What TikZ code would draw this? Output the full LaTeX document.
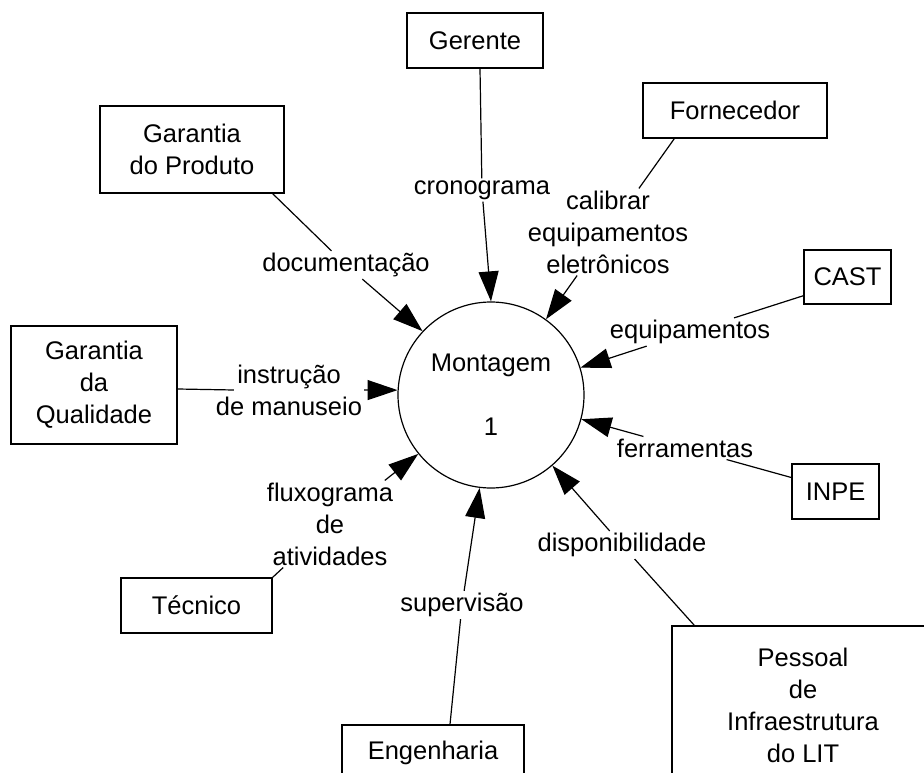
\documentclass[tikz,border=0pt]{standalone}
\usepackage{fontspec}
\setmainfont{Liberation Sans}
\usetikzlibrary{arrows.meta}

\begin{document}
\begin{tikzpicture}[x=1pt,y=-1pt,
  ent/.style={draw,line width=1.5pt,align=center,inner sep=0pt,font=\fontsize{25.5}{32}\selectfont},
  proc/.style={circle,draw,line width=1.2pt,minimum size=186pt,align=center,inner sep=0pt,font=\fontsize{25.5}{32}\selectfont},
  lbl/.style={align=center,inner sep=2pt,font=\fontsize{25.5}{32}\selectfont},
  ln/.style={line width=1.2pt},
  flw/.style={-{Triangle[length=30pt,width=20pt]},line width=1.2pt}]
\useasboundingbox (0,0) rectangle (924,773);
\clip (0,0) rectangle (924,773);
\node[proc] (m) at (491,395) {Montagem\\[32pt]1};
\node[ent,minimum width=136pt,minimum height=55pt] (ger) at (475,40.5) {Gerente};
\node[ent,minimum width=184pt,minimum height=87pt] (gp) at (192,149.5) {Garantia\\do Produto};
\node[ent,minimum width=184pt,minimum height=55pt] (forn) at (735,110.5) {Fornecedor};
\node[ent,minimum width=87pt,minimum height=54pt] (cast) at (847.5,277) {CAST};
\node[ent,minimum width=166pt,minimum height=118pt] (gq) at (94,385) {Garantia\\da\\Qualidade};
\node[ent,minimum width=87pt,minimum height=55pt] (inpe) at (835.5,491.5) {INPE};
\node[ent,minimum width=151pt,minimum height=55pt] (tec) at (196.5,605.5) {Técnico};
\node[ent,minimum width=182pt,minimum height=55pt] (eng) at (433,752.5) {Engenharia};
\node[ent,minimum width=262pt,minimum height=159pt] (pes) at (803,705.5) {Pessoal\\de\\Infraestrutura\\do LIT};
\node[lbl] (cron) at (482,190) {cronograma};
\node[lbl] (doc) at (346,265) {documentação};
\node[lbl] (cal) at (608,232) {calibrar\\equipamentos\\eletrônicos};
\node[lbl] (equ) at (690,332) {equipamentos};
\node[lbl] (fer) at (685,448) {ferramentas};
\node[lbl] (disp) at (622,545) {disponibilidade};
\node[lbl] (sup) at (462,605) {supervisão};
\node[lbl] (flx) at (330,524) {fluxograma\\de\\atividades};
\node[lbl] (ins) at (289,390) {instrução\\de manuseio};
\draw[ln] ([xshift=5pt]ger.south) -- (cron);
\draw[flw] (cron) -- (m.90);
\draw[ln] ([xshift=-12pt]gp.south east) -- (doc);
\draw[flw] (doc) -- (m.137);
\draw[ln] ([xshift=32pt]forn.south west) -- (cal);
\draw[flw] (cal) -- (m.54);
\draw[ln] ([yshift=9pt]cast.south west) -- (equ);
\draw[flw] (equ) -- (m.17);
\draw[ln] ([yshift=14pt]inpe.west) -- (fer);
\draw[flw] (fer) -- (m.-15);
\draw[ln] ([xshift=23pt]pes.north west) -- (disp);
\draw[flw] (disp) -- (m.-49);
\draw[ln] ([xshift=17pt]eng.north) -- (sup);
\draw[flw] (sup) -- (m.-97);
\draw[ln] (tec.north east) -- (flx);
\draw[flw] (flx) -- (m.-141);
\draw[ln] ([yshift=-4pt]gq.east) -- ([xshift=20pt]ins.west);
\draw[flw] (ins) -- (m.177);
\end{tikzpicture}
\end{document}
